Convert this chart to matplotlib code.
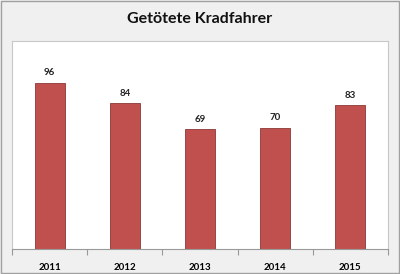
import matplotlib
matplotlib.use("Agg")
import matplotlib.pyplot as plt
from matplotlib.patches import Rectangle

years = ["2011", "2012", "2013", "2014", "2015"]
values = [96, 84, 69, 70, 83]
title = "Getötete Kradfahrer"

plt.rcParams['font.family'] = ['Lato', 'DejaVu Sans']

fig = plt.figure(figsize=(4.0, 2.74), dpi=100, facecolor="#f0f0f0")
ax = fig.add_axes([12/400, 1-249/274, 376/400, 208/274])
ax.set_facecolor("white")
x = list(range(len(years)))
bars = ax.bar(x, values, width=0.4, color="#c0504d", edgecolor="#8c3836", linewidth=0.6)
for xi, v in zip(x, values):
    ax.text(xi, v + 3, str(v), ha="center", va="bottom", fontsize=7, fontweight="bold", color="#222222")
ax.set_xlim(-0.5, len(years) - 0.5)
ax.set_ylim(0, 120)
ax.set_yticks([])
ax.set_xticks([i - 0.5 for i in range(len(years) + 1)], minor=False)
ax.set_xticklabels([])
ax.set_xticks(x, minor=True)
ax.set_xticklabels(years, minor=True, fontsize=7, fontweight="bold")
ax.tick_params(axis="x", which="major", length=4, color="#999999", width=0.8)
ax.tick_params(axis="x", which="minor", length=0, pad=10)
for s in ["top", "right", "left"]:
    ax.spines[s].set_color("#c8c8c8")
    ax.spines[s].set_linewidth(0.8)
ax.spines["bottom"].set_color("#999999")
ax.spines["bottom"].set_linewidth(0.8)
fig.text(0.5, 1 - 19/274, title, ha="center", va="center", fontsize=11.5, fontweight="bold", color="#111111")
fig.patches.append(Rectangle((0.002, 0.002), 0.996, 0.996, transform=fig.transFigure,
                             fill=False, edgecolor="#a0a0a0", linewidth=1))
fig.savefig("out.png", dpi=100, facecolor=fig.get_facecolor())
